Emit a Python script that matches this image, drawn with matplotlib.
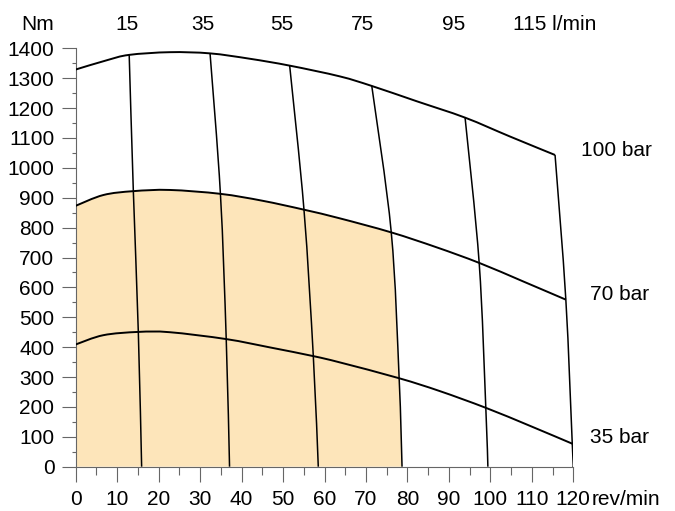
import numpy as np
import matplotlib
matplotlib.use("Agg")
import matplotlib.pyplot as plt
from matplotlib.ticker import MultipleLocator
from matplotlib.path import Path
from matplotlib.patches import PathPatch

plt.rcParams["font.family"] = ["Liberation Sans", "DejaVu Sans"]

# ── pressure curves (speed rev/min, torque Nm) ──
P100_X = [0, 7.5, 12.9, 22.7, 32.4, 42.0, 51.6, 63.7, 71.4, 82.2, 93.9, 104.7, 115.6]
P100_Y = [1329, 1360, 1378, 1387, 1383, 1365, 1342, 1306, 1274, 1223, 1168, 1105, 1043]

P70_X = [0, 6.65, 13.9, 22.7, 34.9, 45.0, 55.05, 63.7, 76.1, 87.05, 97.3, 107.9, 118.2]
P70_Y = [873, 909, 922, 926, 913, 890, 860, 831, 784, 734, 682, 620, 559]

P35_X = [0, 6.65, 15.1, 22.7, 36.3, 46.9, 57.3, 63.7, 78.0, 87.8, 98.9, 109.5, 119.75]
P35_Y = [409, 440, 451, 450, 427, 399, 370, 349, 296, 253, 197, 137, 77]

# ── constant-flow lines (top -> bottom) ──
FLOW_LABELS = ["15", "35", "55", "75", "95", "115 l/min"]
FLOW_X = [
    [12.9, 13.9, 15.1, 15.9],
    [32.4, 34.9, 36.3, 37.1],
    [51.6, 55.05, 57.3, 58.5],
    [71.4, 76.1, 78.0, 78.7],
    [93.9, 97.3, 98.9, 99.4],
    [115.6, 118.2, 119.75, 120.0],
]
FLOW_Y = [
    [1378, 922, 451, 0],
    [1383, 913, 427, 0],
    [1342, 860, 370, 0],
    [1274, 784, 296, 0],
    [1168, 682, 197, 0],
    [1043, 559, 77, 0],
]
FLOW_LABEL_PX = [126.7, 203.3, 281.7, 362.7, 454.0, 513.3]

PRESSURE_LABELS = ["100 bar", "70 bar", "35 bar"]
PRESSURE_LABEL_PX = [(580.7, 150), (590, 294.3), (590, 437.7)]

W, H = 675, 511
FS = 15


def smooth_segments(xs, ys):
    """Bezier (CURVE4) vertices/codes passing through the given points."""
    p = np.column_stack([xs, ys]).astype(float)
    ext = np.vstack([p[0], p, p[-1]])
    verts, codes = [], []
    for i in range(len(p) - 1):
        p0, p1, p2, p3 = ext[i], ext[i + 1], ext[i + 2], ext[i + 3]
        verts += [p1 + (p2 - p0) / 6, p2 - (p3 - p1) / 6, p2]
        codes += [Path.CURVE4] * 3
    return p[0], verts, codes


def smooth_path(xs, ys):
    start, verts, codes = smooth_segments(xs, ys)
    return Path([start] + verts, [Path.MOVETO] + codes)


fig = plt.figure(figsize=(W / 100, H / 100), dpi=100)
ax = fig.add_axes([75.7 / W, 1 - 466.7 / H, (573.3 - 75.7) / W, (466.7 - 48.3) / H])

# shaded operating area: under 70 bar curve, left of 75 l/min line
n70 = P70_X.index(FLOW_X[3][1]) + 1
s1, v1, c1 = smooth_segments(P70_X[:n70], P70_Y[:n70])
s2, v2, c2 = smooth_segments(FLOW_X[3][1:], FLOW_Y[3][1:])
fill_verts = [(0, 0), s1] + v1 + v2 + [(0, 0)]
fill_codes = [Path.MOVETO, Path.LINETO] + c1 + c2 + [Path.CLOSEPOLY]
ax.add_patch(PathPatch(Path(fill_verts, fill_codes), facecolor="#fde5ba",
                       edgecolor="none", zorder=1))

for xs, ys in [(P100_X, P100_Y), (P70_X, P70_Y), (P35_X, P35_Y)]:
    ax.add_patch(PathPatch(smooth_path(xs, ys), facecolor="none",
                           edgecolor="black", lw=1.4, zorder=3))
for xs, ys in zip(FLOW_X, FLOW_Y):
    ax.add_patch(PathPatch(smooth_path(xs, ys), facecolor="none",
                           edgecolor="black", lw=1.1, zorder=3))

ax.set_xlim(0, 120)
ax.set_ylim(0, 1400)
ax.xaxis.set_major_locator(MultipleLocator(10))
ax.xaxis.set_minor_locator(MultipleLocator(5))
ax.yaxis.set_major_locator(MultipleLocator(100))
ax.yaxis.set_minor_locator(MultipleLocator(50))

for s in ["top", "right"]:
    ax.spines[s].set_visible(False)
for s in ["left", "bottom"]:
    ax.spines[s].set_color("#666666")
    ax.spines[s].set_linewidth(0.8)

ax.tick_params(axis="y", which="major", length=10.3, width=0.8, color="#666666",
               labelsize=FS, pad=5)
ax.tick_params(axis="y", which="minor", length=3.2, width=0.8, color="#666666")
ax.tick_params(axis="x", which="major", length=10.8, width=0.8, color="#666666",
               labelsize=FS, pad=6)
ax.tick_params(axis="x", which="minor", length=5.5, width=0.8, color="#666666")


def px2fig(x, y):
    return x / W, 1 - y / H


fig.text(*px2fig(54, 25), "Nm", ha="right", va="center", fontsize=FS)
for lab, xp in zip(FLOW_LABELS, FLOW_LABEL_PX):
    ha = "left" if "l/min" in lab else "center"
    fig.text(*px2fig(xp, 25), lab, ha=ha, va="center", fontsize=FS)
for lab, (xp, yp) in zip(PRESSURE_LABELS, PRESSURE_LABEL_PX):
    fig.text(*px2fig(xp, yp), lab, ha="left", va="center", fontsize=FS)
fig.text(*px2fig(592, 499), "rev/min", ha="left", va="center", fontsize=FS)

fig.savefig("out.png", dpi=100, facecolor="white")
